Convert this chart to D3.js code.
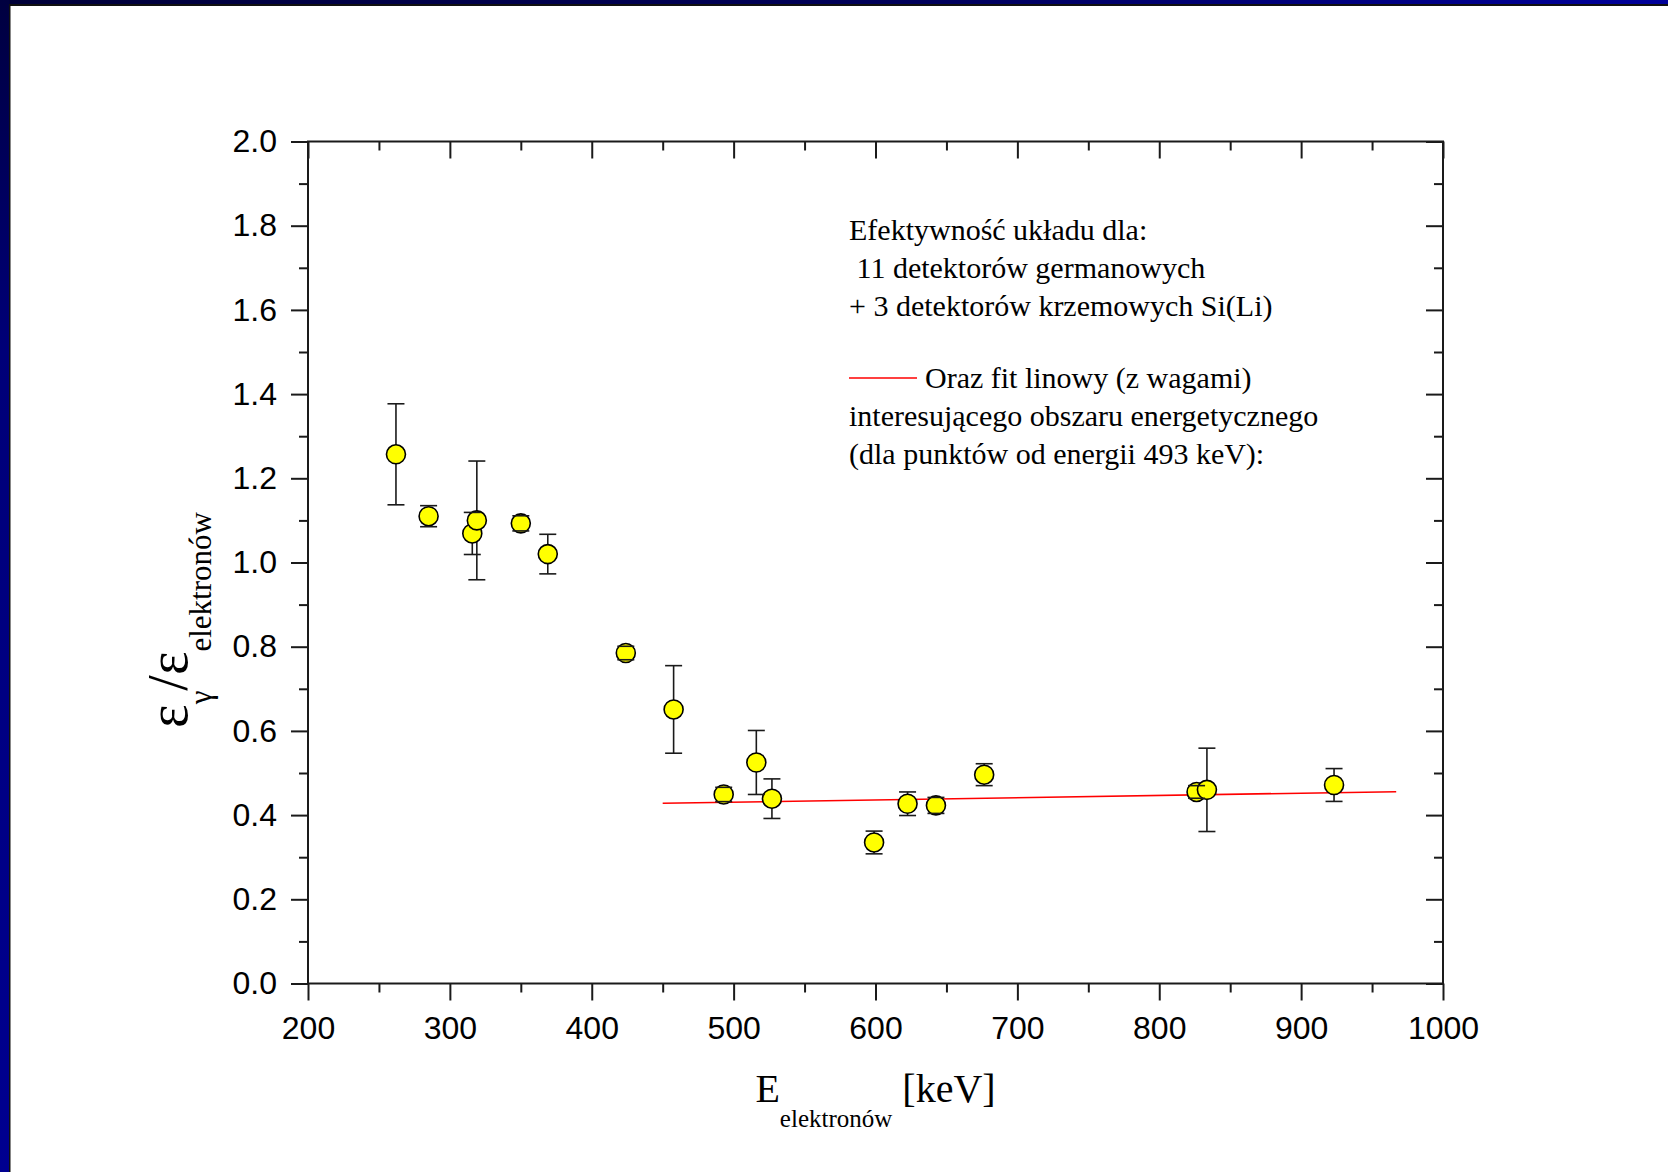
<!DOCTYPE html>
<html>
<head>
<meta charset="utf-8">
<script src="https://cdn.jsdelivr.net/npm/d3@7"></script>
<style>
  html, body { margin: 0; padding: 0; background: #fff; }
  svg { display: block; }
</style>
</head>
<body>
<script>
// measured points: electron energy [keV], efficiency ratio and its error
var energy = [262, 285, 315.8, 319, 350, 369, 424, 457.7, 493, 516, 527,
              599, 622.6, 642.6, 676.6, 826.3, 833.6, 923.2];
var ratio  = [1.257, 1.110, 1.069, 1.100, 1.093, 1.020, 0.785, 0.651, 0.449,
              0.525, 0.439, 0.335, 0.427, 0.423, 0.496, 0.455, 0.460, 0.4715];
var ratioErr = [0.120, 0.025, 0.050, 0.141, 0.018, 0.047, 0.016, 0.104, 0.017,
                0.076, 0.047, 0.027, 0.028, 0.019, 0.026, 0.015, 0.099, 0.039];

// weighted linear fit (points from 493 keV), drawn between its end points
var fitX = [450, 967];
var fitY = [0.428, 0.4556];

var xTicks = [200, 300, 400, 500, 600, 700, 800, 900, 1000];
var yTicks = [0.0, 0.2, 0.4, 0.6, 0.8, 1.0, 1.2, 1.4, 1.6, 1.8, 2.0];

var noteLines = [
  "Efektywność układu dla:",
  "\u00a011 detektorów germanowych",
  "+ 3 detektorów krzemowych Si(Li)"
];
var fitLines = [
  "Oraz fit linowy (z wagami)",
  "interesującego obszaru energetycznego",
  "(dla punktów od energii 493 keV):"
];

(function() {
  "use strict";
  var W = 1668, H = 1172;
  var pLeft = 308, pRight = 1443, pTop = 141.5, pBottom = 983.5;
  var sans = "'Liberation Sans', Arial, sans-serif";
  var serif = "'Liberation Serif', 'Times New Roman', serif";
  var ink = "#1a1a1a";

  var svg = d3.select("body").append("svg")
      .attr("width", W)
      .attr("height", H);

  // slide frame (navy bands top and left)
  var defs = svg.append("defs");
  var g1 = defs.append("linearGradient").attr("id", "topband");
  g1.append("stop").attr("offset", "0%").attr("stop-color", "#000038");
  g1.append("stop").attr("offset", "55%").attr("stop-color", "#00005a");
  g1.append("stop").attr("offset", "100%").attr("stop-color", "#00009a");
  var g2 = defs.append("linearGradient").attr("id", "leftband")
      .attr("x1", 0).attr("y1", 0).attr("x2", 0).attr("y2", 1);
  g2.append("stop").attr("offset", "0%").attr("stop-color", "#000040");
  g2.append("stop").attr("offset", "30%").attr("stop-color", "#000078");
  g2.append("stop").attr("offset", "100%").attr("stop-color", "#000090");

  svg.append("rect").attr("width", W).attr("height", H).attr("fill", "#fff");
  svg.append("rect").attr("x", 0).attr("y", 0).attr("width", W).attr("height", 4)
      .attr("fill", "url(#topband)");
  svg.append("rect").attr("x", 9).attr("y", 4).attr("width", W - 9).attr("height", 2)
      .attr("fill", "#111");
  svg.append("rect").attr("x", 0).attr("y", 0).attr("width", 9).attr("height", H)
      .attr("fill", "url(#leftband)");
  svg.append("rect").attr("x", 9).attr("y", 4).attr("width", 1.5).attr("height", H)
      .attr("fill", "#111");

  // scales
  var x = d3.scaleLinear().domain([200, 1000]).range([pLeft, pRight]);
  var y = d3.scaleLinear().domain([0, 2]).range([pBottom, pTop]);

  var xMinor = d3.range(250, 1000, 100);
  var yMinor = d3.range(0.1, 2.0, 0.2);

  function styleAxis(g) {
    g.select(".domain").remove();
    g.selectAll(".tick line").attr("stroke", ink).attr("stroke-width", 2);
    g.selectAll("text").attr("fill", "#000").style("font-family", sans)
        .style("font-size", "32px");
  }

  // bottom axis, ticks outward
  svg.append("g").attr("transform", "translate(0," + pBottom + ")")
      .call(d3.axisBottom(x).tickValues(xTicks).tickSize(17).tickPadding(16)
        .tickFormat(d3.format("d")))
      .call(styleAxis);
  svg.append("g").attr("transform", "translate(0," + pBottom + ")")
      .call(d3.axisBottom(x).tickValues(xMinor).tickSize(9).tickFormat(""))
      .call(styleAxis);

  // left axis, ticks outward
  svg.append("g").attr("transform", "translate(" + pLeft + ",0)")
      .call(d3.axisLeft(y).tickValues(yTicks).tickSize(17).tickPadding(14)
        .tickFormat(d3.format(".1f")))
      .call(styleAxis);
  svg.append("g").attr("transform", "translate(" + pLeft + ",0)")
      .call(d3.axisLeft(y).tickValues(yMinor).tickSize(9).tickFormat(""))
      .call(styleAxis);

  // top and right mirror axes, ticks inward
  svg.append("g").attr("transform", "translate(0," + pTop + ")")
      .call(d3.axisTop(x).tickValues(xTicks).tickSize(-17).tickFormat(""))
      .call(styleAxis);
  svg.append("g").attr("transform", "translate(0," + pTop + ")")
      .call(d3.axisTop(x).tickValues(xMinor).tickSize(-9).tickFormat(""))
      .call(styleAxis);
  svg.append("g").attr("transform", "translate(" + pRight + ",0)")
      .call(d3.axisRight(y).tickValues(yTicks).tickSize(-17).tickFormat(""))
      .call(styleAxis);
  svg.append("g").attr("transform", "translate(" + pRight + ",0)")
      .call(d3.axisRight(y).tickValues(yMinor).tickSize(-9).tickFormat(""))
      .call(styleAxis);

  // frame
  svg.append("rect")
      .attr("x", pLeft).attr("y", pTop)
      .attr("width", pRight - pLeft).attr("height", pBottom - pTop)
      .attr("fill", "none").attr("stroke", ink).attr("stroke-width", 2);

  // fit line
  svg.append("path")
      .datum(d3.zip(fitX, fitY))
      .attr("d", d3.line().x(function(d) { return x(d[0]); })
                          .y(function(d) { return y(d[1]); }))
      .attr("fill", "none").attr("stroke", "#ff0000").attr("stroke-width", 1.6);

  var pts = energy.map(function(e, i) {
    return { e: e, v: ratio[i], err: ratioErr[i] };
  });
  var r = 9.5, cap = 8.5;

  // error bar stems (behind markers)
  svg.append("g").selectAll("line").data(pts).enter().append("line")
      .attr("x1", function(d) { return x(d.e); })
      .attr("x2", function(d) { return x(d.e); })
      .attr("y1", function(d) { return y(d.v + d.err); })
      .attr("y2", function(d) { return y(d.v - d.err); })
      .attr("stroke", ink).attr("stroke-width", 1.6);

  // markers
  svg.append("g").selectAll("circle").data(pts).enter().append("circle")
      .attr("cx", function(d) { return x(d.e); })
      .attr("cy", function(d) { return y(d.v); })
      .attr("r", r)
      .attr("fill", "#ffff00").attr("stroke", "#000").attr("stroke-width", 1.6);

  // error bar caps (on top)
  var caps = svg.append("g");
  [1, -1].forEach(function(s, k) {
    caps.selectAll("line.c" + k).data(pts).enter().append("line")
        .attr("class", "c" + k)
        .attr("x1", function(d) { return x(d.e) - cap; })
        .attr("x2", function(d) { return x(d.e) + cap; })
        .attr("y1", function(d) { return y(d.v + s * d.err); })
        .attr("y2", function(d) { return y(d.v + s * d.err); })
        .attr("stroke", ink).attr("stroke-width", 1.6);
  });

  // notes
  var note = svg.append("text")
      .style("font-family", serif).style("font-size", "30px").attr("fill", "#000");
  noteLines.forEach(function(t, i) {
    note.append("tspan").attr("x", 849).attr("y", 240 + i * 37.8).text(t);
  });

  svg.append("line")
      .attr("x1", 849).attr("x2", 917).attr("y1", 378).attr("y2", 378)
      .attr("stroke", "#ff0000").attr("stroke-width", 1.6);
  var fitNote = svg.append("text")
      .style("font-family", serif).style("font-size", "30px").attr("fill", "#000");
  fitLines.forEach(function(t, i) {
    fitNote.append("tspan").attr("x", i === 0 ? 925 : 849).attr("y", 388 + i * 37.8).text(t);
  });

  // x axis title
  var xt = svg.append("text")
      .attr("x", (pLeft + pRight) / 2).attr("y", 1102)
      .attr("text-anchor", "middle")
      .attr("font-family", serif).style("font-size", "40px").attr("fill", "#000");
  xt.append("tspan").text("E");
  xt.append("tspan").attr("dy", 25).attr("font-family", serif)
      .style("font-size", "25px").text("elektronów");
  xt.append("tspan").attr("dy", -25).text(" [keV]");

  // y axis title
  var yt = svg.append("text")
      .attr("transform", "translate(187,620) rotate(-90)")
      .attr("text-anchor", "middle")
      .attr("font-family", serif).style("font-size", "56px").attr("fill", "#000");
  yt.append("tspan").text("ε");
  yt.append("tspan").attr("dy", 24).attr("font-family", serif)
      .style("font-size", "31px").text("γ");
  yt.append("tspan").attr("dy", -24).text("/ε");
  yt.append("tspan").attr("dy", 24).attr("font-family", serif)
      .style("font-size", "31px").text("elektronów");
})();
</script>
</body>
</html>
